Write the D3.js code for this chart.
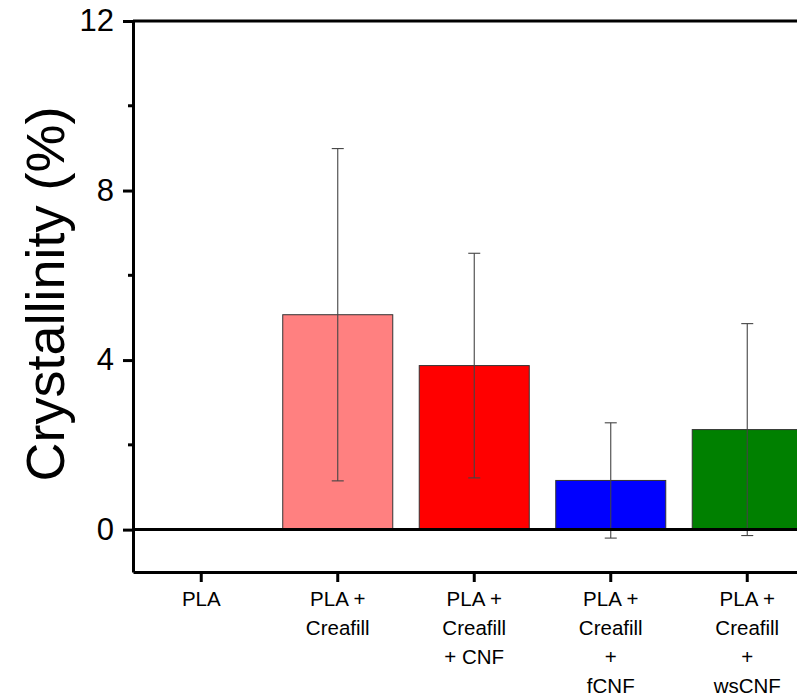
<!DOCTYPE html>
<html>
<head>
<meta charset="utf-8">
<script src="https://cdn.jsdelivr.net/npm/d3@7"></script>
<style>
  body { margin: 0; background: #fff; }
  svg { display: block; font-family: "Liberation Sans", Arial, sans-serif; }
</style>
</head>
<body>
<svg id="chart" width="797" height="697"></svg>
<script>
// sample groups, one label line per entry
const categories = ["PLA", "PLA + Creafill", "PLA + Creafill + CNF", "PLA + Creafill + fCNF", "PLA + Creafill + wsCNF"];
const labelLines = [["PLA"], ["PLA +", "Creafill"], ["PLA +", "Creafill", "+ CNF"], ["PLA +", "Creafill", "+", "fCNF"], ["PLA +", "Creafill", "+", "wsCNF"]];
const crystallinity = [0, 5.07, 3.87, 1.16, 2.36];
const errors = [0, 3.92, 2.65, 1.36, 2.50];
const barColors = ["#ffffff", "#ff8080", "#ff0000", "#0000ff", "#008000"];
const yTicks = [0, 4, 8, 12];
const yMinor = [2, 6, 10];

const svg = d3.select("#chart");
const plotLeft = 133, plotTop = 21, plotBottom = 572;
const step = 136.5;
const font = "'Liberation Sans', Arial, sans-serif";

const x = d3.scaleBand().domain(categories).range([plotLeft, plotLeft + step * categories.length]).padding(0);
const y = d3.scaleLinear().domain([-1, 12]).range([plotBottom, plotTop]);
const barW = x.bandwidth() * 0.806;

// bars
svg.append("g").selectAll("rect")
    .data(categories.map((c, i) => ({ c, v: crystallinity[i], col: barColors[i] })).filter(d => d.v > 0))
    .enter().append("rect")
    .attr("x", d => x(d.c) + (x.bandwidth() - barW) / 2)
    .attr("width", barW)
    .attr("y", d => y(d.v))
    .attr("height", d => y(0) - y(d.v))
    .attr("fill", d => d.col)
    .attr("stroke", "#333").attr("stroke-width", 1);

// error bars
const eb = svg.append("g").attr("stroke", "#444").attr("stroke-width", 1.1);
categories.forEach((c, i) => {
    if (errors[i] <= 0) return;
    const cx = x(c) + x.bandwidth() / 2;
    const hi = y(crystallinity[i] + errors[i]), lo = y(crystallinity[i] - errors[i]);
    eb.append("line").attr("x1", cx).attr("x2", cx).attr("y1", hi).attr("y2", lo);
    eb.append("line").attr("x1", cx - 6).attr("x2", cx + 6).attr("y1", hi).attr("y2", hi);
    eb.append("line").attr("x1", cx - 6).attr("x2", cx + 6).attr("y1", lo).attr("y2", lo);
});

// zero line
svg.append("line").attr("x1", plotLeft).attr("x2", 797).attr("y1", y(0)).attr("y2", y(0))
    .attr("stroke", "#000").attr("stroke-width", 3);

// frame top line
svg.append("line").attr("x1", plotLeft).attr("x2", 797).attr("y1", plotTop).attr("y2", plotTop)
    .attr("stroke", "#000").attr("stroke-width", 3);

// y axis
const yAxis = svg.append("g").attr("transform", `translate(${plotLeft},0)`)
    .call(d3.axisLeft(y).tickValues(yTicks).tickSize(10).tickSizeOuter(0).tickPadding(9));
yAxis.attr("font-family", font);
yAxis.select(".domain").attr("stroke-width", 3);
yAxis.selectAll(".tick line").attr("stroke-width", 3);
yAxis.selectAll(".tick text").attr("font-size", 31).attr("fill", "#000");
yAxis.selectAll(".minor").data(yMinor).enter().append("line")
    .attr("x1", -5).attr("x2", 0).attr("y1", d => y(d)).attr("y2", d => y(d))
    .attr("stroke", "#000").attr("stroke-width", 3);

// x axis
const xAxis = svg.append("g").attr("transform", `translate(0,${plotBottom})`)
    .call(d3.axisBottom(x).tickSize(10).tickSizeOuter(0).tickFormat(""));
xAxis.select(".domain").attr("stroke-width", 3);
xAxis.selectAll(".tick line").attr("stroke-width", 3);

const lbl = svg.append("g").attr("font-size", 20.5).attr("font-family", font)
    .attr("text-anchor", "middle").attr("fill", "#000");
categories.forEach((c, i) => {
    const cx = x(c) + x.bandwidth() / 2;
    labelLines[i].forEach((t, j) => {
        lbl.append("text").attr("x", cx).attr("y", 606 + j * 29).text(t);
    });
});

// y title
svg.append("text")
    .attr("transform", `translate(64,294) rotate(-90)`)
    .attr("text-anchor", "middle")
    .attr("font-family", font)
    .attr("font-size", 54)
    .text("Crystallinity (%)");
</script>
</body>
</html>
